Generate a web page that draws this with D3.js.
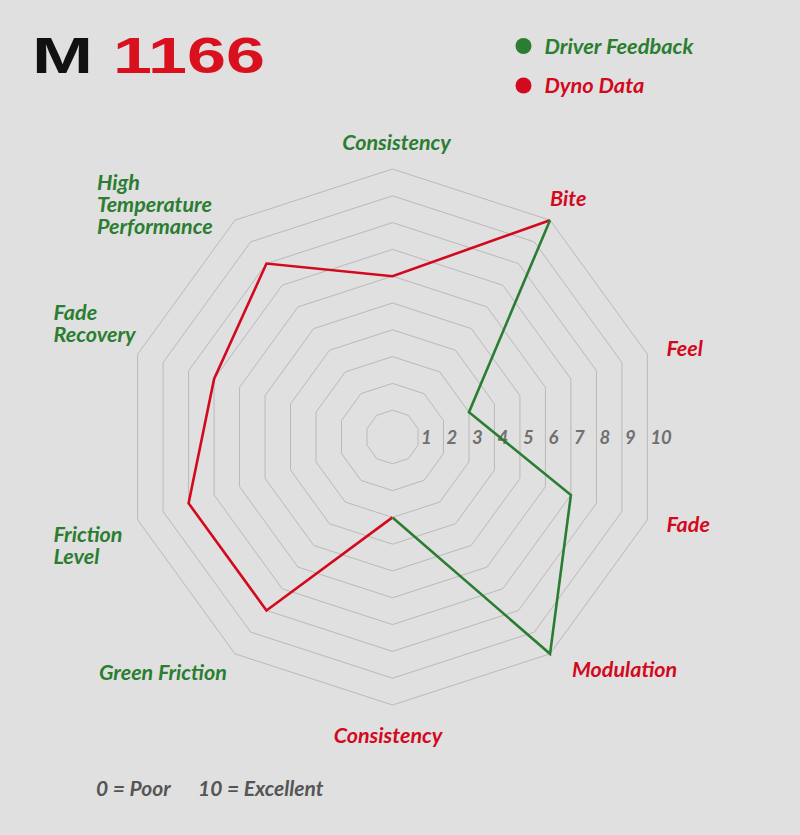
<!DOCTYPE html>
<html>
<head>
<meta charset="utf-8">
<script src="https://cdn.jsdelivr.net/npm/d3@7/dist/d3.min.js"></script>
<style>
  html, body { margin: 0; padding: 0; background: #e0e0e0; }
  svg { display: block; }
  .lbl { font-family: Lato, "Open Sans", sans-serif; font-style: italic; font-weight: 700; }
</style>
</head>
<body>
<svg id="chart" width="800" height="835"></svg>
<script>
// ---- data ----
const axes = ["Consistency", "Bite", "Feel", "Fade", "Modulation", "Consistency",
              "Green Friction", "Friction Level", "Fade Recovery", "High Temperature Performance"];
const axisGroup = ["driver", "dyno", "dyno", "dyno", "dyno", "dyno", "driver", "driver", "driver", "driver"];
const values = [6, 10, 3, 7, 10, 3, 8, 8, 7, 8];
const greenPathAxes = [1, 2, 3, 4, 5];
const redPathAxes = [5, 6, 7, 8, 9, 0, 1];
const ticks = [1, 2, 3, 4, 5, 6, 7, 8, 9, 10];
const tickLabels = ["1", "2", "3", "4", "5", "6", "7", "8", "9", "10"];
const legendItems = ["Driver Feedback", "Dyno Data"];
const legendKeys = ["driver", "dyno"];
const noteItems = ["0 = Poor", "10 = Excellent"];

// ---- layout ----
const W = 800, H = 835;
const cx = 392.5, cy = 437, R = 268;
const GREEN = "#2a7d31", RED = "#d3091d", GRID = "#b9b9b9";
const colorOf = { driver: GREEN, dyno: RED };
const FS = 21.5;

const svg = d3.select("#chart");
svg.append("rect").attr("width", W).attr("height", H).attr("fill", "#e0e0e0");

const r = d3.scaleLinear().domain([0, 10]).range([0, R]);
const angle = d3.scaleLinear().domain([0, axes.length]).range([0, 2 * Math.PI]);
const pt = (i, v) => [cx + r(v) * Math.sin(angle(i)), cy - r(v) * Math.cos(angle(i))];

// grid rings
const ringLine = d3.line();
svg.append("g").selectAll("path").data(ticks).join("path")
  .attr("d", t => ringLine(axes.map((a, i) => pt(i, t))) + "Z")
  .attr("fill", "none").attr("stroke", GRID).attr("stroke-width", 1);

// tick labels along the right flat edge
const edgeX = t => cx + r(t) * Math.cos(Math.PI / 10);
svg.append("g").selectAll("text").data(ticks).join("text")
  .attr("class", "lbl")
  .attr("x", t => edgeX(t) + 3)
  .attr("y", cy + 6.5)
  .attr("font-size", 18.5).attr("font-weight", 400)
  .attr("fill", "#707070")
  .text((t, i) => tickLabels[i]);

// data lines
const line = d3.line();
svg.append("path")
  .attr("d", line(redPathAxes.map(i => pt(i, values[i]))))
  .attr("fill", "none").attr("stroke", RED).attr("stroke-width", 2.6).attr("stroke-linejoin", "miter");
svg.append("path")
  .attr("d", line(greenPathAxes.map(i => pt(i, values[i]))))
  .attr("fill", "none").attr("stroke", GREEN).attr("stroke-width", 2.6).attr("stroke-linejoin", "miter");

// axis labels (offsets from the outer ring vertex)
const labelLayout = [
  { anchor: "middle", dx: 4,    dy: -19 },
  { anchor: "start",  dx: 0,    dy: -14 },
  { anchor: "start",  dx: 19,   dy: 2 },
  { anchor: "start",  dx: 19,   dy: 12 },
  { anchor: "start",  dx: 22,   dy: 23 },
  { anchor: "middle", dx: -4.5, dy: 37.5 },
  { anchor: "start",  dx: -136, dy: 26 },
  { anchor: "start",  dx: -84,  dy: 22 },
  { anchor: "start",  dx: -84,  dy: -34 },
  { anchor: "start",  dx: -138, dy: -30 }
];
const lineBreaks = { 7: ["Friction", "Level"], 8: ["Fade", "Recovery"], 9: ["High", "Temperature", "Performance"] };
const lblG = svg.append("g");
axes.forEach((a, i) => {
  const [vx, vy] = pt(i, 10);
  const L = labelLayout[i];
  const t = lblG.append("text").attr("class", "lbl")
    .attr("x", vx + L.dx).attr("y", vy + L.dy)
    .attr("text-anchor", L.anchor)
    .attr("font-size", FS)
    .attr("fill", colorOf[axisGroup[i]]);
  const parts = lineBreaks[i] || [a];
  parts.forEach((p, k) => {
    t.append("tspan").attr("x", vx + L.dx).attr("dy", k === 0 ? 0 : 21.7).text(p);
  });
});

// legend
const leg = svg.append("g");
legendItems.forEach((name, k) => {
  const y = 46 + k * 39.5;
  leg.append("circle").attr("cx", 523.5).attr("cy", y).attr("r", 8).attr("fill", colorOf[legendKeys[k]]);
  leg.append("text").attr("class", "lbl").attr("x", 544.5).attr("y", y + 7.5)
    .attr("font-size", FS + 0.3).attr("fill", colorOf[legendKeys[k]]).text(name);
});

// title logo
svg.append("text").attr("x", 32).attr("y", 73)
  .attr("font-family", "'Liberation Sans', Arial, sans-serif").attr("font-weight", 700)
  .attr("font-size", 50).attr("fill", "#111")
  .attr("textLength", 61).attr("lengthAdjust", "spacingAndGlyphs").text("M");
svg.append("text").attr("x", 113).attr("y", 73)
  .attr("font-family", "'Liberation Sans', Arial, sans-serif").attr("font-weight", 700)
  .attr("font-size", 50).attr("fill", "#d9101e")
  .attr("textLength", 152).attr("lengthAdjust", "spacingAndGlyphs").text("1166");

// note
const noteX = [96, 198];
noteItems.forEach((n, k) => {
  svg.append("text").attr("class", "lbl").attr("x", noteX[k]).attr("y", 796)
    .attr("font-size", 21).attr("font-weight", 400).attr("fill", "#555").text(n);
});
</script>
</body>
</html>
